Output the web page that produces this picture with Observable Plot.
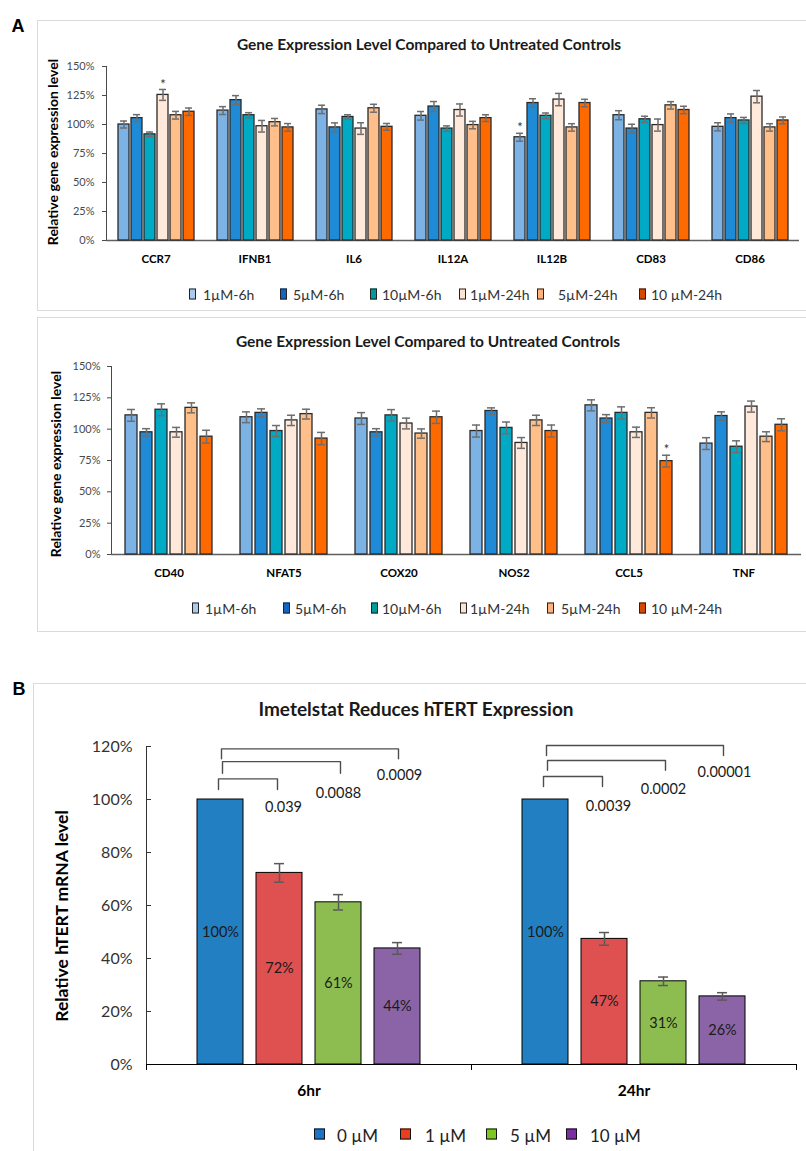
<!DOCTYPE html>
<html><head><meta charset="utf-8">
<script src="https://cdn.jsdelivr.net/npm/d3@7"></script>
<script src="https://cdn.jsdelivr.net/npm/@observablehq/plot@0.6"></script>
<style>
body{margin:0;background:#fff;}
#page{position:relative;width:806px;height:1151px;overflow:hidden;font-family:Lato,"Open Sans",sans-serif;color:#262626;}
.box{position:absolute;border:1.5px solid #dadada;box-sizing:border-box;}
.letter{position:absolute;font-family:"Liberation Sans",Arial,sans-serif;font-weight:bold;font-size:18px;color:#000;transform:translate(-50%,-50%);}
.title{position:absolute;font-weight:bold;white-space:nowrap;transform:translate(-50%,-50%);color:#1a1a1a;}
.ylab{position:absolute;font-weight:bold;white-space:nowrap;transform:translate(-50%,-50%) rotate(-90deg);color:#000;}
.chart{position:absolute;left:0;}
.sw{position:absolute;box-sizing:border-box;border:1px solid #222;transform:translateY(-50%);}
.lt{position:absolute;white-space:nowrap;transform:translateY(-50%);}
[aria-label^="fx-axis"] text{font-weight:bold;fill:#000;font-size:11.5px;}
#chartB [aria-label^="fx-axis"] text{font-size:15.5px;}
</style></head>
<body><div id="page"></div>
<script>
// ---------------- Panel A data ----------------
const seriesA = ["1µM-6h", "5µM-6h", "10µM-6h", "1µM-24h", "5µM-24h", "10 µM-24h"];
const colorsA = ["#7db3e4", "#1f8bd6", "#00aac4", "#fee9da", "#ffbf8b", "#ff6a00"];
const legendColorsA = ["#a9cbee", "#1464c4", "#009a9c", "#fde3d3", "#ffb27c", "#d84800"];

const genesTop = ["CCR7", "IFNB1", "IL6", "IL12A", "IL12B", "CD83", "CD86"];
const valuesTop = [
  [100, 105.5, 91.5, 125.5, 108, 111],
  [112, 121, 108, 98.5, 102, 97.5],
  [113, 97.5, 106.5, 96.5, 114, 98],
  [107.5, 115.5, 96.5, 112.5, 99.5, 105.5],
  [89, 118.5, 107.5, 121.5, 97.5, 118.5],
  [108, 96.5, 104.5, 99.5, 116.5, 112.5],
  [98, 105.5, 103.5, 124, 97.5, 103.5]
];
const errorsTop = [
  [3.0, 3.0, 2.0, 4.7, 3.3, 3.2],
  [3.4, 3.9, 2.2, 5.0, 3.2, 3.3],
  [3.6, 3.9, 1.9, 5.0, 3.4, 2.9],
  [3.7, 4.3, 2.3, 5.2, 3.2, 2.9],
  [3.4, 3.7, 2.4, 5.3, 3.2, 3.2],
  [3.9, 3.7, 2.6, 5.2, 3.2, 3.2],
  [3.5, 3.6, 2.6, 5.3, 3.2, 3.0]
];
const starsTop = [["CCR7", "1µM-24h"], ["IL12B", "1µM-6h"]];

const genesBottom = ["CD40", "NFAT5", "COX20", "NOS2", "CCL5", "TNF"];
const valuesBottom = [
  [111, 97.5, 115.5, 97.5, 117, 94],
  [109.5, 113, 98.5, 107, 112, 92.5],
  [108.5, 97.5, 111, 104.5, 96.5, 109.5],
  [98.5, 114.5, 101, 89, 107, 98.5],
  [119, 108.5, 113, 97.5, 113, 74.5],
  [88.5, 110.5, 86, 118, 94, 103.5]
];
const errorsBottom = [
  [4.7, 2.9, 4.7, 3.9, 4.0, 5.1],
  [4.3, 3.2, 4.4, 4.1, 3.9, 4.9],
  [4.7, 2.9, 4.6, 4.3, 3.7, 4.9],
  [4.8, 2.5, 4.7, 4.3, 4.1, 4.8],
  [4.4, 3.1, 4.8, 4.1, 4.1, 4.7],
  [4.7, 3.3, 4.7, 4.4, 3.9, 4.8]
];
const starsBottom = [["CCL5", "10 µM-24h"]];
const ticksA = [0, 25, 50, 75, 100, 125, 150];

// ---------------- Panel B data ----------------
const hoursB = ["6hr", "24hr"];
const dosesB = ["0 µM", "1 µM", "5 µM", "10 µM"];
const colorsB = ["#2280c2", "#df5050", "#8dbd50", "#8a64a6"];
const legendColorsB = ["#1c74c9", "#e8401e", "#7dc623", "#7a2fa3"];
const values6hr = [100, 72.3, 61.2, 43.8];
const values24hr = [100, 47.4, 31.4, 25.7];
const errors6hr = [0, 3.5, 2.9, 2.2];
const errors24hr = [0, 2.4, 1.6, 1.4];
const pValues6hr = ["0.039", "0.0088", "0.0009"];
const pValues24hr = ["0.0039", "0.0002", "0.00001"];
const bracketTop6hr = [107.8, 114.3, 119.1];
const bracketLeg6hr = [103.8, 109.9, 115.4];
const pLabelY6hr = [96.9, 102.2, 109.1];
const bracketTop24hr = [108.7, 114.7, 120.4];
const bracketLeg24hr = [104.9, 111.0, 116.6];
const pLabelY24hr = [97.4, 103.7, 110.3];
const ticksB = [0, 20, 40, 60, 80, 100, 120];

// ---------------- helpers ----------------
const isNew = typeof Plot.axisY === "function";
const page = document.getElementById("page");
function el(cls, css, text) {
  const d = document.createElement("div");
  d.className = cls;
  Object.assign(d.style, css);
  if (text != null) d.textContent = text;
  page.appendChild(d);
  return d;
}

function tidyA(genes, values, errors, stars) {
  const rows = [];
  genes.forEach((g, i) => seriesA.forEach((s, j) => rows.push({
    gene: g, series: s, value: values[i][j], err: errors[i][j],
    star: stars.some(([sg, ss]) => sg === g && ss === s)
  })));
  return rows;
}

function chartA(rows, genes, o) {
  const fx = {fx: "gene", x: "series"};
  return Plot.plot({
    width: 806, height: o.height,
    marginTop: 10, marginBottom: 30, marginLeft: o.left, marginRight: o.right,
    style: {fontFamily: "Lato, sans-serif", fontSize: "11px", color: "#4a4a4a", background: "transparent", overflow: "visible"},
    fx: {domain: genes, padding: 0, axis: "bottom", label: null, tickSize: 0, tickPadding: 14},
    x: {domain: seriesA, paddingInner: o.pi, paddingOuter: o.po, axis: null},
    y: {domain: [0, 150], ticks: ticksA, tickFormat: d => d + "%", tickSize: 4, tickPadding: o.tp, line: true, label: null},
    color: {domain: seriesA, range: colorsA},
    marks: [
      Plot.ruleY([0], {stroke: "#606060", strokeWidth: 1.3}),
      Plot.barY(rows, {...fx, y: "value", fill: "series", stroke: "#2a2a2a", strokeWidth: 1.3}),
      Plot.ruleX(rows, {...fx, y1: d => d.value - d.err, y2: d => d.value + d.err, stroke: "#6e6e6e", strokeWidth: 1.5}),
      Plot.tickY(rows, {...fx, y: d => d.value - d.err, insetLeft: 2, insetRight: 2, stroke: "#6e6e6e", strokeWidth: 1.5}),
      Plot.tickY(rows, {...fx, y: d => d.value + d.err, insetLeft: 2, insetRight: 2, stroke: "#6e6e6e", strokeWidth: 1.5}),
      Plot.text(rows.filter(d => d.star), {...fx, y: d => d.value + d.err, text: () => "*", dy: -5, fontSize: 13, fill: "#333"})
    ]
  });
}

// ---------------- Panel A layout ----------------
el("letter", {left: "18px", top: "26px"}, "A");
el("box", {left: "37px", top: "20px", width: "780px", height: "291px"});
el("box", {left: "37px", top: "317px", width: "780px", height: "315px"});

el("title", {left: "429px", top: "44px", fontSize: "15.5px"}, "Gene Expression Level Compared to Untreated Controls");
el("title", {left: "428px", top: "341px", fontSize: "15.5px"}, "Gene Expression Level Compared to Untreated Controls");
el("ylab", {left: "52px", top: "152px", fontSize: "14px"}, "Relative gene expression level");
el("ylab", {left: "55px", top: "464px", fontSize: "14px"}, "Relative gene expression level");

const a1 = el("chart", {top: "56px"});
a1.appendChild(chartA(tidyA(genesTop, valuesTop, errorsTop, starsTop), genesTop,
  {height: 214, left: 104, right: 6, pi: 0.17, po: 0.846, tp: 8}));
const a2 = el("chart", {top: "356px"});
a2.appendChild(chartA(tidyA(genesBottom, valuesBottom, errorsBottom, starsBottom), genesBottom,
  {height: 228, left: 109, right: 4, pi: 0.183, po: 0.866, tp: 7}));

function legendA(y, swX, txX) {
  seriesA.forEach((s, i) => {
    el("sw", {left: swX[i] + "px", top: y + "px", width: "7px", height: "11px", background: legendColorsA[i]});
    el("lt", {left: txX[i] + "px", top: y + "px", fontSize: "14px", color: "#333"}, s);
  });
}
legendA(294, [189, 280, 370, 459, 537, 639], [203, 293, 382, 470, 558, 651]);
legendA(608, [192, 283, 371, 460, 547, 639], [205, 295, 382, 470, 561, 651]);

// ---------------- Panel B ----------------
el("letter", {left: "19px", top: "689px"}, "B");
el("box", {left: "33px", top: "683px", width: "800px", height: "520px"});
el("title", {left: "416px", top: "708px", fontSize: "19px"}, "Imetelstat Reduces hTERT Expression");
el("ylab", {left: "61px", top: "916px", fontSize: "17.5px"}, "Relative hTERT mRNA level");

const rowsB = [];
hoursB.forEach((h, i) => dosesB.forEach((d, j) => rowsB.push({
  hour: h, dose: d,
  value: (i === 0 ? values6hr : values24hr)[j],
  err: (i === 0 ? errors6hr : errors24hr)[j]
})));
const bracketPts = [], pRows = [];
hoursB.forEach((h, i) => {
  const tops = i === 0 ? bracketTop6hr : bracketTop24hr;
  const legs = i === 0 ? bracketLeg6hr : bracketLeg24hr;
  const ly = i === 0 ? pLabelY6hr : pLabelY24hr;
  const pv = i === 0 ? pValues6hr : pValues24hr;
  tops.forEach((t, k) => {
    const target = dosesB[k + 1];
    bracketPts.push(
      {hour: h, level: k, dose: dosesB[0], y: legs[k]},
      {hour: h, level: k, dose: dosesB[0], y: t},
      {hour: h, level: k, dose: target, y: t},
      {hour: h, level: k, dose: target, y: legs[k]}
    );
    pRows.push({hour: h, level: k, dose: target, y: ly[k], text: pv[k]});
  });
});
const bracketDx = [-2, 2, 1];
const pLabelDx = [4, 0, 2];
const errB = rowsB.filter(d => d.err > 0);
const fxB = {fx: "hour", x: "dose"};

const marksB = [
  Plot.ruleY([0], {stroke: "#000", strokeWidth: 1.2}),
  Plot.barY(rowsB, {...fxB, y: "value", fill: "dose", stroke: "#000", strokeWidth: 1}),
  Plot.ruleX(errB, {...fxB, y1: d => d.value - d.err, y2: d => d.value + d.err, stroke: "#5a5a5a", strokeWidth: 1.5}),
  Plot.tickY(errB, {...fxB, y: d => d.value - d.err, insetLeft: 18, insetRight: 18, stroke: "#5a5a5a", strokeWidth: 1.5}),
  Plot.tickY(errB, {...fxB, y: d => d.value + d.err, insetLeft: 18, insetRight: 18, stroke: "#5a5a5a", strokeWidth: 1.5}),
  Plot.text(rowsB, {...fxB, y: d => d.value / 2, text: d => Math.round(d.value) + "%", fontSize: 14.5, fill: "#1a1a1a"}),
  ...[0, 1, 2].map(k => Plot.line(bracketPts.filter(d => d.level === k), {...fxB, y: "y", stroke: "#4d4d4d", strokeWidth: 1.4, dx: bracketDx[k]})),
  ...[0, 1, 2].map(k => Plot.text(pRows.filter(d => d.level === k), {...fxB, y: "y", text: "text", fontSize: 14.5, fill: "#1a1a1a", dx: pLabelDx[k]}))
];
if (isNew) {
  marksB.push(Plot.frame({anchor: "left", insetTop: 318, insetBottom: -5, stroke: "#000"}));
  marksB.push(Plot.frame({anchor: "right", insetTop: 318, insetBottom: -5, stroke: "#000"}));
}

const b = el("chart", {top: "736px"});
b.id = "chartB";
b.appendChild(Plot.plot({
  width: 806, height: 368,
  marginTop: 10, marginBottom: 40, marginLeft: 146, marginRight: 10,
  style: {fontFamily: "Lato, sans-serif", fontSize: "16px", color: "#333", background: "transparent", overflow: "visible"},
  fx: {domain: hoursB, padding: 0, axis: "bottom", label: null, tickSize: 0, tickPadding: 20},
  x: {domain: dosesB, paddingInner: 0.215, paddingOuter: 0.853, axis: null},
  y: {domain: [0, 120], ticks: ticksB, tickFormat: d => d + "%", tickSize: -5, tickPadding: isNew ? 19 : 14, line: true, label: null},
  color: {domain: dosesB, range: colorsB},
  marks: marksB
}));

const swB = [314, 400, 486, 566], txB = [337, 425, 510, 590];
dosesB.forEach((d, i) => {
  el("sw", {left: swB[i] + "px", top: "1134px", width: "11px", height: "11px", background: legendColorsB[i], border: "1.5px solid #111"});
  el("lt", {left: txB[i] + "px", top: "1135px", fontSize: "17px", color: "#222"}, d);
});
</script>
</body></html>
